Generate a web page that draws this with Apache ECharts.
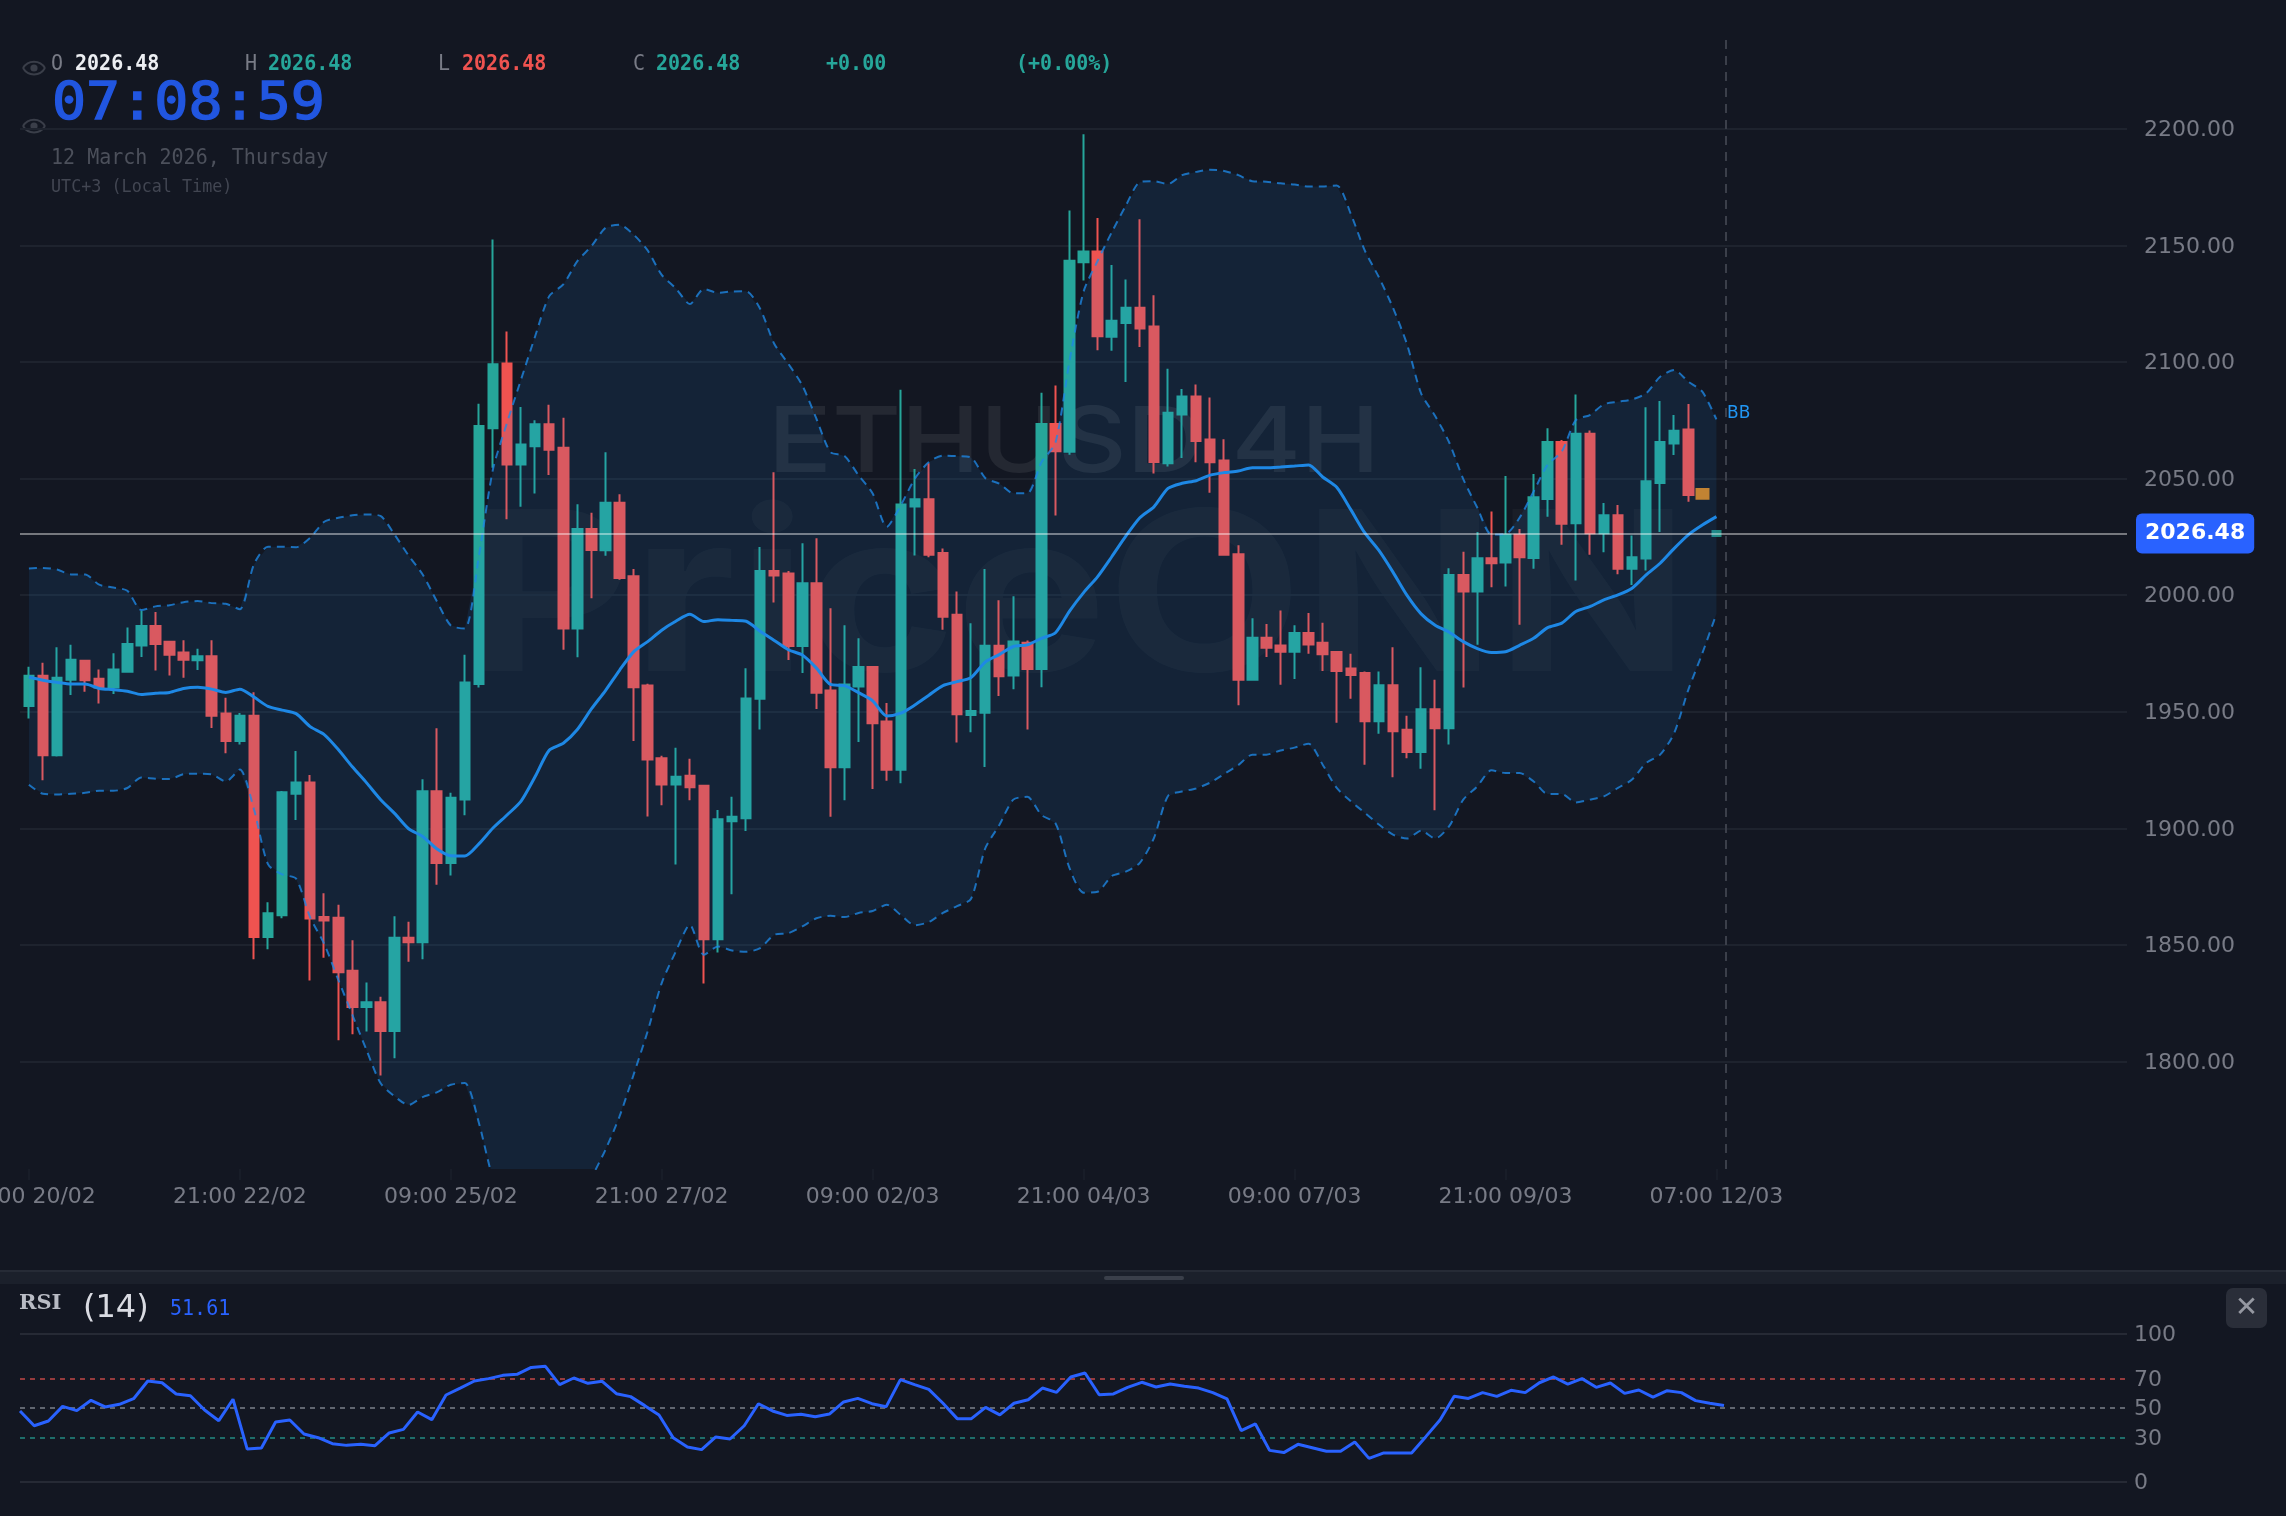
<!DOCTYPE html>
<html>
<head>
<meta charset="utf-8">
<title>ETHUSD 4H</title>
<style>html,body{margin:0;padding:0;background:#131722;overflow:hidden}#chart{width:2286px;height:1516px}</style>
<script src="https://cdn.jsdelivr.net/npm/echarts@6/dist/echarts.min.js"></script>
</head>
<body>
<div id="chart"></div>
<script>
// ETHUSD 4-hour candles, one entry per bar.
const opens = [1952.5,1965.4,1931.3,1963.7,1971.9,1964.2,1960.4,1967.2,1978.4,1986.8,
1980.0,1975.4,1972.1,1973.8,1949.2,1937.4,1948.3,1853.4,1862.7,1914.8,
1919.7,1862.0,1861.6,1838.9,1823.3,1825.4,1813.0,1853.0,1851.1,1915.9,
1885.1,1912.4,1961.9,2071.6,2099.4,2056.1,2063.9,2073.3,2063.3,1985.7,
2028.4,2019.3,2039.7,2008.1,1961.3,1930.0,1918.8,1922.5,1918.3,1852.4,
1903.0,1904.3,1955.6,2010.4,2009.3,1978.2,2005.1,1959.1,1926.2,1960.8,
1969.2,1945.8,1925.1,2038.0,2041.2,2018.1,1991.6,1948.6,1949.6,1978.3,
1965.5,1979.6,1968.3,2073.4,2061.5,2142.8,2147.5,2110.9,2116.8,2123.3,
2115.3,2056.6,2077.5,2085.2,2066.8,2057.8,2017.6,1963.7,1981.7,1978.4,
1975.7,1983.8,1979.6,1975.6,1968.6,1966.6,1945.9,1961.4,1942.3,1932.7,
1951.1,1942.9,2008.7,2001.6,2015.9,2014.0,2025.9,2016.0,2041.3,2065.7,
2030.9,2069.3,2026.6,2034.3,2011.3,2015.7,2048.1,2065.1,2071.1,2045.1,
2026.48];
const closes = [1965.4,1931.3,1964.6,1972.3,1963.5,1960.4,1968.1,1979.1,1986.8,1979.1,
1974.5,1972.3,1973.8,1948.3,1937.4,1948.3,1853.4,1863.6,1915.5,1919.7,
1861.3,1860.4,1838.2,1823.3,1825.4,1813.0,1853.0,1851.1,1915.9,1885.1,
1913.1,1962.5,2072.6,2099.1,2056.1,2064.7,2073.3,2062.4,1985.7,2028.4,
2019.4,2039.7,2007.4,1960.5,1929.5,1918.8,1922.1,1917.6,1852.4,1903.9,
1905.0,1955.7,2010.4,2008.4,1978.2,2005.1,1958.2,1926.2,1961.7,1969.2,
1945.1,1925.1,2038.9,2041.2,2017.4,1990.8,1948.9,1950.3,1978.3,1965.2,
1980.1,1968.3,2073.4,2061.8,2143.5,2147.5,2111.1,2117.7,2123.3,2114.4,
2057.1,2078.3,2085.2,2066.1,2057.0,2017.4,1963.7,1981.7,1977.5,1975.7,
1983.8,1978.9,1974.7,1967.5,1965.8,1945.9,1961.4,1941.6,1932.7,1951.1,
1942.9,2008.7,2001.6,2015.9,2013.7,2025.9,2016.3,2042.0,2065.7,2030.7,
2069.3,2026.6,2034.3,2011.4,2016.3,2048.9,2065.7,2070.6,2043.0,2041.8,
2026.48];
const lows = [1947.1,1920.6,1930.8,1957.2,1958.6,1953.5,1957.6,1967.2,1973.5,1967.7,
1965.6,1964.6,1967.9,1943.0,1932.2,1936.0,1843.8,1848.1,1861.4,1903.6,
1834.7,1844.5,1809.1,1811.7,1812.8,1793.9,1801.4,1842.7,1843.8,1875.8,
1879.7,1905.6,1960.4,2054.7,2032.6,2037.9,2043.6,2051.6,1976.6,1973.4,
1998.7,2016.9,2006.6,1937.4,1905.1,1909.9,1884.5,1912.0,1833.4,1846.7,
1871.7,1898.8,1942.4,1996.9,1972.2,1966.6,1951.2,1905.0,1912.0,1937.0,
1916.9,1920.4,1919.3,2017.0,2016.3,1985.2,1936.8,1941.2,1926.3,1956.8,
1959.6,1942.4,1960.5,2034.2,2060.3,2135.0,2105.1,2104.9,2091.5,2106.5,
2052.2,2055.2,2058.9,2057.0,2044.0,2017.4,1952.8,1963.7,1973.5,1961.6,
1964.0,1974.9,1967.5,1945.3,1955.6,1927.3,1940.6,1921.9,1930.0,1925.6,
1907.7,1935.9,1960.4,1978.7,2003.4,2003.7,1987.3,2011.3,2033.7,2021.6,
2006.3,2017.3,2018.4,2009.0,2004.4,2010.6,2027.1,2060.1,2040.1,2041.8,
2026.48];
const highs = [1969.3,1971.0,1977.7,1978.7,1971.9,1968.1,1975.1,1986.1,1993.3,1992.8,
1980.0,1980.7,1977.0,1980.7,1956.0,1949.5,1958.4,1868.3,1916.0,1933.2,
1922.9,1872.1,1867.2,1852.0,1833.8,1827.7,1862.3,1859.9,1921.0,1942.9,
1915.2,1974.5,2082.1,2152.6,2113.1,2080.7,2075.1,2081.7,2076.1,2039.0,
2035.4,2061.3,2043.3,2011.2,1962.0,1931.1,1934.6,1929.8,1918.3,1907.8,
1913.5,1968.7,2020.7,2052.7,2010.4,2022.3,2024.4,1994.4,1987.1,1981.5,
1969.2,1953.8,2088.1,2054.1,2056.6,2020.0,2001.6,1988.0,2011.2,1997.8,
1999.5,1980.6,2086.9,2090.0,2165.0,2197.7,2161.8,2141.7,2135.4,2161.3,
2128.7,2097.1,2088.5,2090.4,2084.8,2066.9,2021.4,1990.1,1987.6,1993.4,
1987.1,1992.4,1988.2,1975.6,1974.9,1967.3,1967.3,1977.7,1948.3,1969.1,
1963.7,2011.6,2018.6,2027.1,2035.9,2051.1,2028.4,2052.0,2071.6,2066.6,
2086.1,2070.7,2039.6,2038.7,2025.6,2080.6,2083.3,2077.3,2082.0,2045.1,
2026.48];

// Bollinger band (20, 2): upper, middle and lower lines.
const bbUpper = [2011.5,2011.7,2011.0,2008.9,2008.9,2004.5,2003.3,2001.9,1993.6,1995.2,
1995.7,1997.0,1997.5,1996.6,1996.3,1994.0,2013.2,2020.8,2020.8,2020.6,
2024.6,2031.5,2033.2,2034.3,2034.6,2034.0,2026.0,2017.0,2008.9,1997.5,
1987.0,1985.7,2016.9,2054.0,2074.0,2092.6,2111.1,2128.3,2133.3,2143.3,
2149.7,2157.6,2158.9,2154.7,2147.9,2137.4,2131.7,2124.9,2131.4,2129.7,
2130.3,2130.4,2122.9,2107.9,2099.3,2090.0,2075.7,2061.4,2059.7,2051.4,
2043.6,2029.3,2038.6,2050.0,2057.1,2059.9,2059.7,2059.1,2050.3,2047.9,
2043.7,2043.7,2057.0,2065.5,2100.6,2130.3,2143.5,2155.7,2167.1,2177.2,
2177.6,2176.4,2180.2,2181.6,2182.5,2182.0,2180.2,2177.6,2177.4,2176.7,
2176.2,2175.3,2175.3,2175.8,2163.6,2147.8,2136.4,2123.3,2107.6,2086.6,
2076.9,2065.5,2049.8,2037.5,2026.0,2026.2,2033.2,2044.5,2056.0,2061.6,
2075.1,2077.3,2081.9,2083.0,2084.0,2086.6,2093.7,2096.6,2091.6,2087.3,
2075.4];
const bbMiddle = [1964.9,1963.5,1962.6,1961.9,1961.9,1960.0,1959.5,1958.8,1957.4,1957.9,
1958.3,1960.0,1960.5,1959.7,1958.3,1959.7,1956.3,1952.3,1950.7,1949.2,
1943.6,1940.2,1933.8,1926.4,1919.6,1912.4,1906.4,1899.8,1896.5,1891.2,
1888.2,1888.1,1893.3,1900.1,1905.7,1911.7,1922.2,1933.5,1936.5,1942.4,
1951.2,1959.1,1967.8,1975.7,1980.1,1985.0,1988.8,1991.8,1988.7,1989.5,
1989.2,1988.8,1984.5,1980.6,1976.6,1974.3,1968.7,1961.7,1961.2,1958.2,
1954.7,1948.2,1949.4,1952.9,1957.1,1961.2,1962.9,1964.7,1971.3,1974.5,
1978.0,1978.7,1981.5,1983.9,1993.2,2001.1,2008.0,2016.5,2025.3,2033.2,
2037.9,2045.8,2048.0,2049.1,2051.5,2052.6,2053.3,2054.7,2054.7,2055.0,
2055.4,2055.9,2050.7,2046.3,2036.7,2026.7,2019.2,2009.9,1999.9,1992.0,
1987.1,1984.1,1980.1,1977.1,1975.4,1975.7,1978.5,1981.5,1986.1,1988.0,
1993.0,1995.1,1998.0,2000.1,2003.0,2008.7,2013.7,2020.1,2025.9,2030.1,
2033.7];
const bbLower = [1918.7,1914.8,1914.5,1914.8,1915.2,1916.1,1916.1,1917.3,1921.8,1921.3,
1921.1,1923.2,1923.4,1923.1,1920.1,1925.2,1908.2,1884.6,1880.2,1878.4,
1861.8,1850.4,1835.0,1820.0,1805.0,1790.7,1785.0,1781.3,1784.7,1786.7,
1790.0,1790.7,1773.6,1750.0,1740.0,1730.0,1725.0,1722.0,1728.0,1738.0,
1750.0,1762.1,1776.4,1794.3,1812.9,1833.6,1847.1,1858.6,1845.7,1849.3,
1847.6,1847.0,1848.6,1854.3,1855.0,1857.9,1861.4,1862.5,1861.9,1863.7,
1864.5,1867.2,1862.8,1858.4,1859.8,1863.7,1866.6,1869.8,1891.3,1901.3,
1912.3,1913.5,1905.7,1902.2,1882.9,1872.4,1872.8,1879.5,1881.4,1885.2,
1895.8,1913.9,1915.8,1917.1,1919.6,1923.3,1927.1,1931.6,1931.6,1933.4,
1934.6,1936.3,1927.3,1917.3,1911.6,1906.6,1901.6,1897.3,1895.6,1899.0,
1895.6,1900.9,1912.3,1918.0,1924.9,1923.7,1923.7,1920.1,1914.7,1914.7,
1911.1,1912.3,1913.7,1917.3,1920.9,1928.0,1931.6,1940.9,1959.4,1975.1,
1992.0];

// RSI (14), one reading per bar.
const rsiValues = [47.9,37.9,41.1,51.0,48.1,55.1,50.6,52.4,56.2,68.2,
67.0,59.4,58.2,48.5,41.3,55.8,22.1,22.8,40.4,41.8,
32.3,29.8,25.7,24.6,25.3,24.4,33.0,35.4,47.2,42.0,
58.7,63.4,68.2,69.8,72.0,72.7,77.4,78.1,65.7,70.2,
66.6,68.0,59.6,57.6,51.5,45.2,29.8,23.5,21.7,30.3,
28.9,37.9,52.8,47.9,44.9,45.6,44.0,45.8,54.0,56.4,
52.8,50.8,69.1,65.7,62.5,53.1,42.7,42.7,50.3,45.2,
53.1,55.5,63.4,60.5,70.9,73.6,58.9,59.4,63.9,67.3,
64.1,66.1,64.6,63.4,60.3,56.0,34.6,39.1,21.2,19.7,
25.3,23.0,20.6,20.6,26.9,15.8,19.4,19.4,19.4,30.5,
41.8,57.8,56.4,60.3,57.8,61.9,60.3,67.0,70.9,66.1,
69.8,63.9,66.8,59.8,62.1,57.3,61.6,60.3,54.9,53.1,
51.61];

const timeTicks = ['09:00 20/02','21:00 22/02','09:00 25/02','21:00 27/02','09:00 02/03','21:00 04/03','09:00 07/03','21:00 09/03','07:00 12/03'];
const priceTicks = [1800,1850,1900,1950,2000,2050,2100,2150,2200];
const rsiTicks = [0,30,50,70,100];
const lastPrice = 2026.48;
const lastRsi = 51.61;
const clockText = '07:08:59';
const dateText = '12 March 2026, Thursday';
const zoneText = 'UTC+3 (Local Time)';

const BARS_PER_TICK = 15;
const SLOTS = 150;   // room to the right of the latest bar
const categories = Array.from({length: SLOTS}, (_, i) =>
  i % BARS_PER_TICK === 0 && i / BARS_PER_TICK < timeTicks.length ? timeTicks[i / BARS_PER_TICK] : '');

const UP = '#26a69a', DOWN = '#ef5350', PENDING = '#d5821e', BAND = '#1e88e5', TAG = '#2196f3', RSI_BLUE = '#2962ff';
const GRID_LINE = '#1e232e', MUTED = '#787b86', MONO = '"DejaVu Sans Mono", monospace';

const candles = opens.map((o, i) => {
  const value = [o, closes[i], lows[i], highs[i]];
  if (i === 119) {
    return {value, itemStyle: {color: PENDING, color0: PENDING, borderColor: PENDING, borderColor0: PENDING, borderWidth: 4}};
  }
  if (i === 120) {
    const tint = 'rgba(38,166,154,0.8)';
    return {value, itemStyle: {color: tint, color0: tint, borderColor: tint, borderColor0: tint, borderWidth: 7}};
  }
  return value;
});

const priceAxisRange = {min: 1753.84, max: 2238.18};
const flatLine = (value, color, type) => ({
  yAxis: value,
  lineStyle: {color, width: 2, type},
  label: {show: false}
});
// Axis tick text, nudged a little below the grid line it names.
const tickRich = {t: {color: MUTED, fontFamily: 'DejaVu Sans', fontSize: 22, padding: [3, 0, 0, 0]}};

function text(x, y, str, font, fill, extra) {
  return Object.assign({
    type: 'text', x, y, z: 20, silent: true,
    style: {text: str, font, fill, textVerticalAlign: 'middle'}
  }, extra || {});
}
// Mono read-out text, drawn narrow and tall.
function mono(x, y, str, size, fill, weight, squeeze) {
  return text(x, y, str, (weight ? weight + ' ' : '') + size + 'px ' + MONO, fill, {scaleX: squeeze || 0.91});
}
function eye(cx, cy) {
  const lid = sign => ({
    type: 'bezierCurve',
    shape: {x1: -11, y1: 0, x2: 11, y2: 0, cpx1: -6, cpy1: sign * 8.5, cpx2: 6, cpy2: sign * 8.5},
    style: {fill: 'none', stroke: '#3a3e49', lineWidth: 2}
  });
  return {
    type: 'group', x: cx, y: cy, z: 20, silent: true,
    children: [lid(1), lid(-1), {type: 'circle', shape: {cx: 0, cy: 0, r: 3.6}, style: {fill: '#3a3e49'}}]
  };
}

const chart = echarts.init(document.getElementById('chart'), null, {renderer: 'canvas'});
chart.setOption({
  animation: false,
  backgroundColor: '#131722',
  grid: [
    {left: 20, top: 40, width: 2107, height: 1129, outerBoundsMode: 'none'},
    {left: 21.87, top: 40, width: 2109.4, height: 1129, outerBoundsMode: 'none'},
    {left: 20, top: 1334, width: 2107, height: 147.7, outerBoundsMode: 'none'}
  ],
  xAxis: [
    {gridIndex: 0, type: 'value', min: 0, max: 1, show: false},
    {gridIndex: 1, type: 'category', data: categories, boundaryGap: true,
     axisLine: {show: false},
     axisTick: {show: true, length: 11, interval: (i, v) => v !== '', alignWithLabel: true, lineStyle: {color: '#181d28', width: 2}},
     axisLabel: {show: true, color: MUTED, fontFamily: 'DejaVu Sans', fontSize: 22, margin: 17, interval: (i, v) => v !== '', hideOverlap: false},
     splitLine: {show: false}},
    {gridIndex: 2, type: 'value', min: 0, max: 148.38, show: false}
  ],
  yAxis: [
    {gridIndex: 0, type: 'value', position: 'right', ...priceAxisRange,
     axisLine: {show: false},
     axisTick: {show: false, customValues: priceTicks},
     axisLabel: {margin: 17, customValues: priceTicks, rich: tickRich, formatter: v => '{t|' + v.toFixed(2) + '}'},
     splitLine: {show: true, lineStyle: {color: GRID_LINE, width: 2}}},
    {gridIndex: 1, type: 'value', ...priceAxisRange, show: false, splitLine: {show: false}},
    {gridIndex: 2, type: 'value', position: 'right', min: 0, max: 100,
     axisLine: {show: false},
     axisTick: {show: false, customValues: rsiTicks},
     axisLabel: {margin: 7, customValues: rsiTicks, rich: tickRich, formatter: v => '{t|' + v + '}'},
     splitLine: {show: false}}
  ],
  series: [
    {
      name: 'ETHUSD', type: 'candlestick', xAxisIndex: 1, yAxisIndex: 1, z: 2,
      barWidth: 10, data: candles, silent: true,
      itemStyle: {color: UP, color0: DOWN, borderColor: UP, borderColor0: DOWN, borderWidth: 2}
    },
    {
      name: 'BB fill', type: 'custom', xAxisIndex: 1, yAxisIndex: 1, z: 3, clip: true, silent: true,
      data: [[0, bbMiddle[0]]],
      encode: {x: 0, y: 1},
      renderItem(params, api) {
        const top = bbUpper.map((v, i) => api.coord([i, v]));
        const bottom = bbLower.map((v, i) => api.coord([i, v])).reverse();
        return {type: 'polygon', shape: {points: top.concat(bottom)}, style: {fill: 'rgba(33,150,243,0.1)'}};
      }
    },
    {name: 'BB upper', type: 'line', xAxisIndex: 1, yAxisIndex: 1, z: 4, data: bbUpper, symbol: 'none', smooth: 0.25, silent: true,
     lineStyle: {color: BAND, opacity: 0.78, width: 2, type: [8, 6]}},
    {name: 'BB lower', type: 'line', xAxisIndex: 1, yAxisIndex: 1, z: 4, data: bbLower, symbol: 'none', smooth: 0.25, silent: true,
     lineStyle: {color: BAND, opacity: 0.78, width: 2, type: [8, 6]}},
    {name: 'BB basis', type: 'line', xAxisIndex: 1, yAxisIndex: 1, z: 5, data: bbMiddle, symbol: 'none', smooth: 0.25, silent: true,
     lineStyle: {color: BAND, width: 3}},
    {
      name: 'Last price', type: 'line', xAxisIndex: 0, yAxisIndex: 0, z: 6, silent: true,
      data: [[0, lastPrice], [1, lastPrice]], symbol: 'none', lineStyle: {opacity: 0},
      markLine: {
        silent: true, symbol: 'none', z: 6, animation: false,
        data: [{yAxis: lastPrice}],
        lineStyle: {color: 'rgba(255,255,255,0.42)', width: 2, type: 'solid'},
        label: {
          show: true, position: 'end', distance: 9,
          formatter: () => lastPrice.toFixed(2),
          color: '#ffffff', fontFamily: 'DejaVu Sans', fontWeight: 'bold', fontSize: 22,
          backgroundColor: RSI_BLUE, borderRadius: 6, padding: [12, 9, 6, 9], lineHeight: 22
        }
      }
    },
    {
      name: 'RSI', type: 'line', xAxisIndex: 2, yAxisIndex: 2, z: 4, silent: true,
      data: rsiValues.map((v, i) => [i, v]), symbol: 'none',
      lineStyle: {color: RSI_BLUE, width: 3},
      markLine: {
        silent: true, symbol: 'none', z: 2, animation: false,
        data: [
          flatLine(100, '#262a35', 'solid'),
          flatLine(70, 'rgba(239,83,80,0.6)', [5, 5]),
          flatLine(50, 'rgba(150,155,165,0.6)', [5, 5]),
          flatLine(30, 'rgba(38,166,154,0.6)', [5, 5]),
          flatLine(0, '#262a35', 'solid')
        ]
      }
    }
  ],
  graphic: {elements: [
    // faint symbol and brand marks behind the candles
    {type: 'text', x: 768, y: 445, scaleX: 1.164, z: 0, silent: true,
     style: {text: 'ETHUSD 4H', font: '500 91px Inter', fill: 'rgba(255,255,255,0.075)', textVerticalAlign: 'middle'}},
    {type: 'text', x: 468, y: 603.5, scaleX: 1.138, z: 0, silent: true,
     style: {text: 'PriceONN', font: '700 223px Inter', fill: 'rgba(255,255,255,0.03)', textVerticalAlign: 'middle'}},

    // cursor marker and band tag
    {type: 'line', z: 7, silent: true, shape: {x1: 1726, y1: 40, x2: 1726, y2: 1169},
     style: {stroke: '#3b3f4a', lineWidth: 2, lineDash: [9, 7]}},
    text(1727, 414, 'BB', '17px "DejaVu Sans"', TAG),

    // OHLC read-out
    eye(34, 68),
    eye(34, 126),
    mono(51, 64, 'O', 22, MUTED),
    mono(75, 64, lastPrice.toFixed(2), 22, '#eceef2', 'bold'),
    mono(245, 64, 'H', 22, MUTED),
    mono(268, 64, lastPrice.toFixed(2), 22, UP, 'bold'),
    mono(438, 64, 'L', 22, MUTED),
    mono(462, 64, lastPrice.toFixed(2), 22, DOWN, 'bold'),
    mono(633, 64, 'C', 22, MUTED),
    mono(656, 64, lastPrice.toFixed(2), 22, UP, 'bold'),
    mono(826, 64, '+0.00', 22, UP, 'bold'),
    mono(1016, 64, '(+0.00%)', 22, UP, 'bold'),

    // clock and date
    {type: 'text', x: 52, y: 105, scaleX: 1.09, z: 20, silent: true,
     style: {text: clockText, font: '52px ' + MONO, fill: '#2156e0', stroke: '#2156e0', lineWidth: 1.4, textVerticalAlign: 'middle'}},
    mono(51, 158, dateText, 22, '#4c505b'),
    mono(51, 187, zoneText, 18, '#424652', '', 0.93),

    // pane separator with drag handle
    {type: 'rect', z: 1, silent: true, shape: {x: 0, y: 1270, width: 2286, height: 14}, style: {fill: '#1b202b'}},
    {type: 'rect', z: 1, silent: true, shape: {x: 0, y: 1270, width: 2286, height: 2}, style: {fill: '#262b36'}},
    {type: 'rect', z: 1, silent: true, shape: {x: 1104, y: 1276, width: 80, height: 4, r: 2}, style: {fill: '#3a3f4a'}},

    // RSI pane title and close button
    text(19, 1304, 'RSI', 'bold 21px "DejaVu Serif"', '#b8bbc4'),
    text(83, 1309, '(14)', '32px "DejaVu Sans"', '#d9dbe2'),
    mono(170, 1309, lastRsi.toFixed(2), 22, RSI_BLUE),
    {type: 'rect', z: 1, silent: true, shape: {x: 2226, y: 1288, width: 41, height: 40, r: 7}, style: {fill: '#2a2e39'}},
    {type: 'text', x: 2246.5, y: 1309, z: 20, silent: true,
     style: {text: '\u2715', font: '28px "DejaVu Sans"', fill: '#9598a1', textAlign: 'center', textVerticalAlign: 'middle'}}
  ]}
});
</script>
</body>
</html>
